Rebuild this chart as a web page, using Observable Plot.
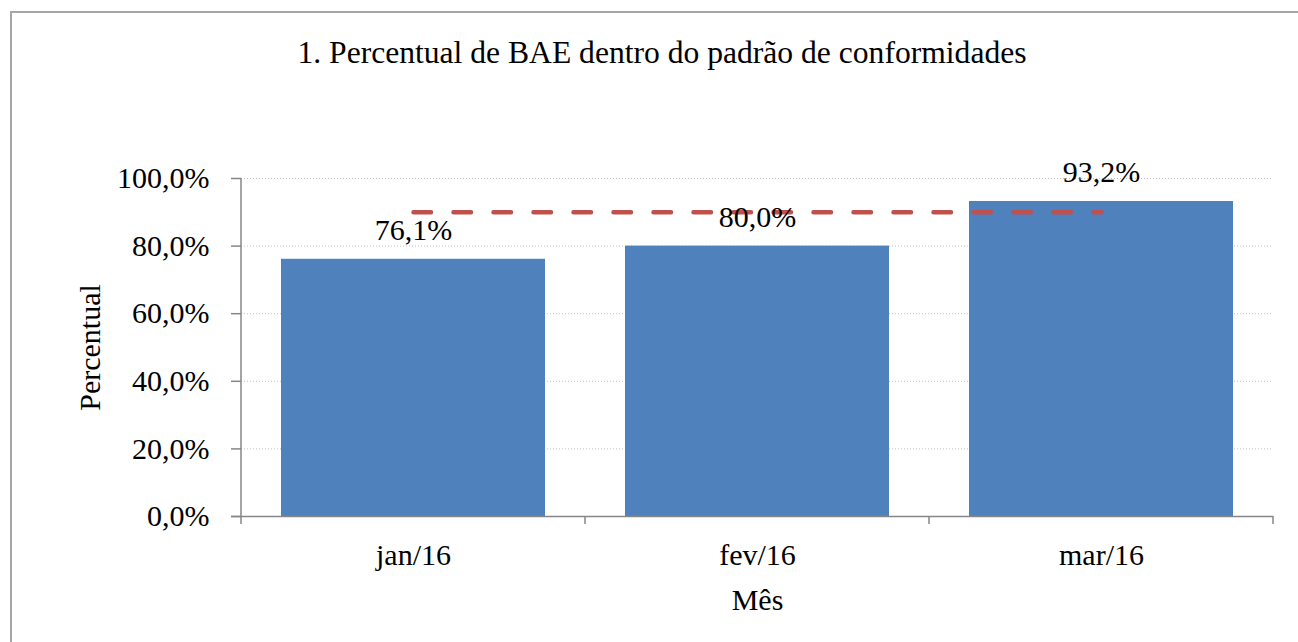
<!DOCTYPE html>
<html>
<head>
<meta charset="utf-8">
<script src="https://cdn.jsdelivr.net/npm/d3@7"></script>
<script src="https://cdn.jsdelivr.net/npm/@observablehq/plot@0.6"></script>
<style>
  html, body { margin: 0; padding: 0; background: #fff; width: 1298px; height: 642px; overflow: hidden; }
  #border { position: absolute; left: 10px; top: 11px; width: 1320px; height: 660px; border-left: 2px solid #a6a6a6; border-top: 2px solid #a6a6a6; box-sizing: border-box; }
  #title { position: absolute; left: 0; top: 0; }
  #chart { position: absolute; left: 0; top: 110px; }
</style>
</head>
<body>
<div id="border"></div>
<svg id="title" width="1298" height="110">
  <text x="662" y="63" text-anchor="middle" font-family="'Liberation Serif','Times New Roman',serif" font-size="31.6" fill="#000">1. Percentual de BAE dentro do padrão de conformidades</text>
</svg>
<div id="chart"></div>
<script>
// ---- data ----
const months = ["jan/16", "fev/16", "mar/16"];
const percent = [0.761, 0.800, 0.932];
const meta = [0.90, 0.90, 0.90];
const yTicks = [0, 0.2, 0.4, 0.6, 0.8, 1.0];
const xLabel = "Mês";
const yLabel = "Percentual";

const data = months.map((m, i) => ({ month: m, value: percent[i], meta: meta[i] }));
const fmt = v => (v * 100).toFixed(1).replace(".", ",") + "%";
const axisGray = "#868686";

// boundary ticks between categories + vertical axis line (Excel style)
function categoryBoundaries(index, scales, values, dimensions) {
  const x = scales.x;
  const bw = x.bandwidth();
  const step = x.step();
  const gap = (step - bw) / 2;
  const bottom = dimensions.height - dimensions.marginBottom;
  const top = dimensions.marginTop;
  const xs = months.map(m => x(m) - gap);
  xs.push(x(months[months.length - 1]) + bw + gap);
  const g = d3.create("svg:g").attr("stroke", axisGray).attr("stroke-width", 1.5);
  g.append("line").attr("x1", xs[0]).attr("x2", xs[0]).attr("y1", top).attr("y2", bottom);
  for (const v of xs) {
    g.append("line").attr("x1", v).attr("x2", v).attr("y1", bottom).attr("y2", bottom + 8);
  }
  return g.node();
}

const chart = Plot.plot({
  width: 1298,
  height: 532,
  marginTop: 68,
  marginBottom: 126,
  marginLeft: 241,
  marginRight: 25,
  style: { fontFamily: "'Liberation Serif','Times New Roman',serif", fontSize: "30px", color: "#000", background: "transparent" },
  x: { domain: months, paddingInner: 0.2326, paddingOuter: 0.1163, align: 0.5, axis: null },
  y: { domain: [0, 1], axis: null },
  marks: [
    Plot.gridY(yTicks.slice(1), { stroke: "#bfbfbf", strokeOpacity: 1, strokeWidth: 1, strokeDasharray: "1,2" }),
    Plot.barY(data, { x: "month", y: "value", fill: "#4F81BD" }),
    Plot.lineY(data, { x: "month", y: "meta", stroke: "#C0504D", strokeWidth: 4.5, strokeDasharray: "17.5,22.5", strokeLinecap: "round" }),
    Plot.text(data, { x: "month", y: "value", text: d => fmt(d.value), lineAnchor: "bottom", dy: -19, fontSize: 30, fill: "#000" }),
    Plot.ruleY([0], { stroke: axisGray, strokeWidth: 1.5, insetLeft: -10 }),
    categoryBoundaries,
    Plot.axisY(yTicks, { tickFormat: fmt, tickSize: 10, tickPadding: 22, stroke: axisGray, strokeWidth: 1.5, fill: "#000", fontSize: 30, label: null }),
    Plot.axisX(months, { tickSize: 0, tickPadding: 27, fill: "#000", fontSize: 30, label: null }),
    Plot.text([xLabel], { frameAnchor: "bottom", lineAnchor: "bottom", dy: 93, fontSize: 30, fill: "#000" }),
    Plot.text([yLabel], { frameAnchor: "left", textAnchor: "middle", lineAnchor: "middle", rotate: -90, dx: -151, fontSize: 30, fill: "#000" })
  ]
});
document.getElementById("chart").appendChild(chart);
</script>
</body>
</html>
